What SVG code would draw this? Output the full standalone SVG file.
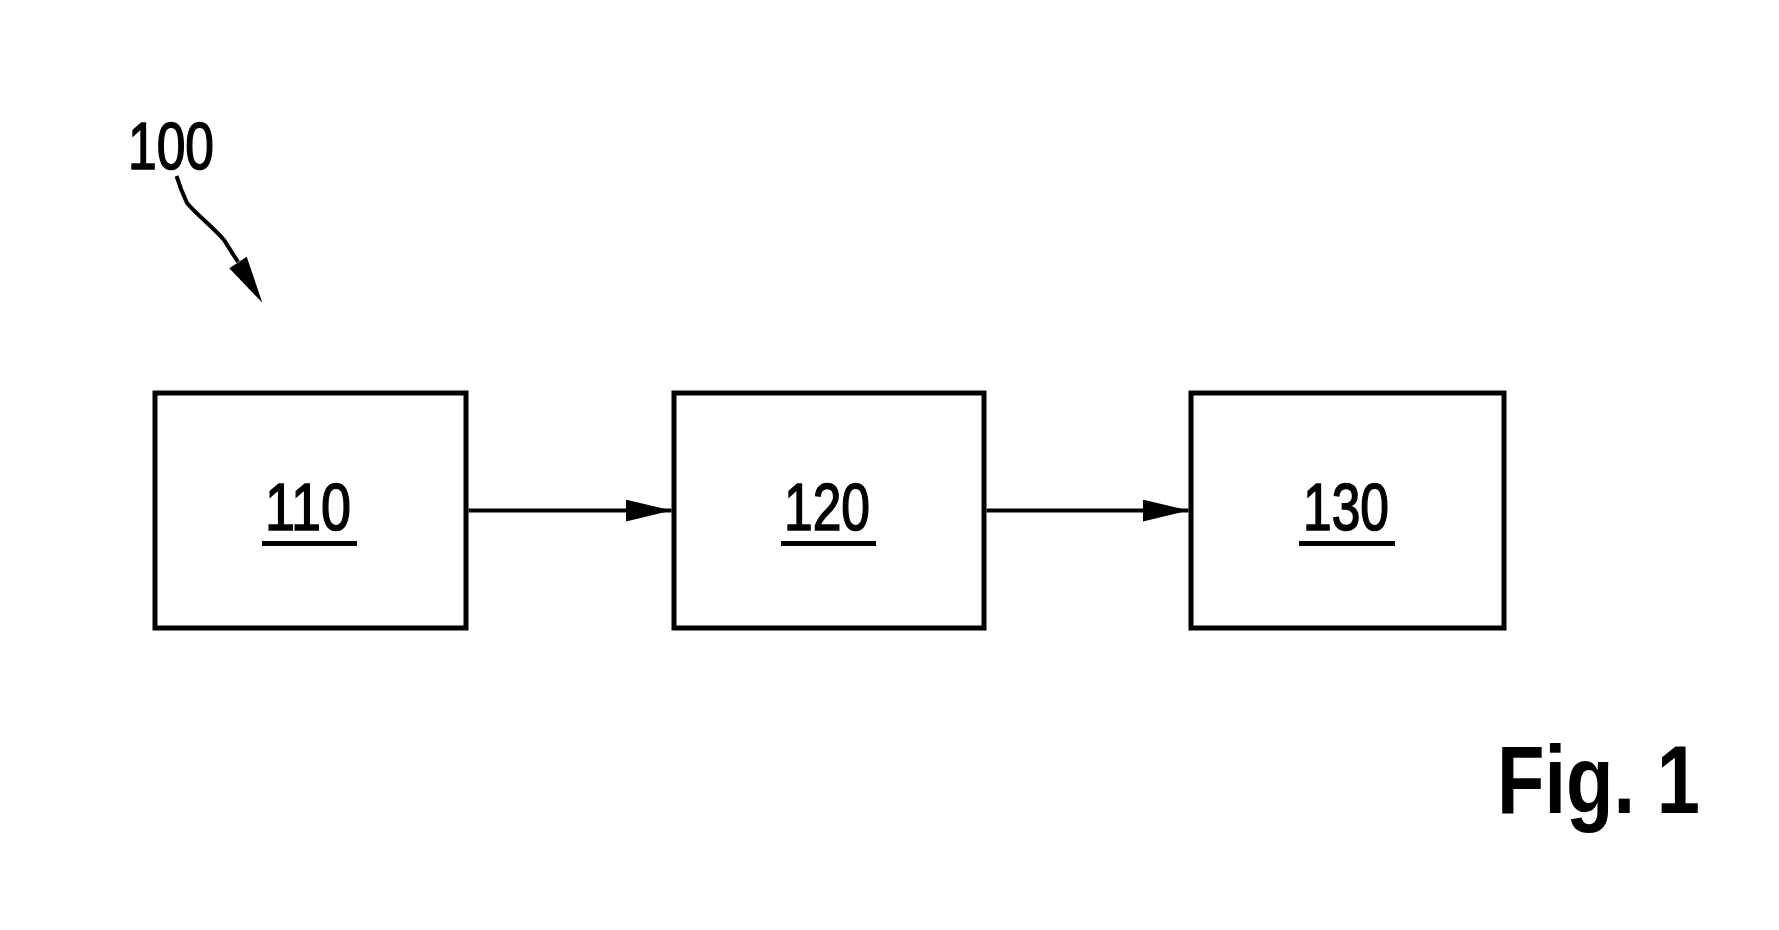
<svg xmlns="http://www.w3.org/2000/svg" width="1779" height="930" viewBox="0 0 1779 930">
<defs>
<style>
.box{fill:#fff;stroke:#000;stroke-width:5}
.lbl{font-family:"Liberation Sans",Arial,sans-serif;font-size:66px;fill:#000;stroke:#000;stroke-width:1.6;text-anchor:middle}
.ul{fill:#000}
.conn{stroke:#000;stroke-width:4;fill:none}
.fig{font-family:"Liberation Sans",Arial,sans-serif;font-size:96px;font-weight:bold;fill:#000}
</style>
<marker id="ah" viewBox="0 0 46 22" refX="46" refY="11" markerWidth="46" markerHeight="22" markerUnits="userSpaceOnUse" orient="auto">
<path d="M0,0 L46,11 L0,22 z" fill="#000"/>
</marker>
</defs>
<rect width="1779" height="930" fill="#fff"/>
<g id="ref100">
<text class="lbl" x="171" y="169" textLength="86" lengthAdjust="spacingAndGlyphs">100</text>
<path class="conn" d="M176.5,176 L181,189 L187,203 C196,214 214,228 224,240 L238,262"/>
<polygon points="262.3,302.7 229.3,268.3 246.7,256.7" fill="#000"/>
</g>
<g id="node110">
<rect class="box" x="155" y="393" width="311" height="235"/>
<text class="lbl" x="308" y="530" textLength="86" lengthAdjust="spacingAndGlyphs">110</text>
<rect class="ul" x="262" y="541" width="95" height="5"/>
</g>
<g id="node120">
<rect class="box" x="674" y="393" width="310" height="235"/>
<text class="lbl" x="827" y="530" textLength="86" lengthAdjust="spacingAndGlyphs">120</text>
<rect class="ul" x="781" y="541" width="95" height="5"/>
</g>
<g id="node130">
<rect class="box" x="1191" y="393" width="313" height="235"/>
<text class="lbl" x="1346" y="530" textLength="86" lengthAdjust="spacingAndGlyphs">130</text>
<rect class="ul" x="1299" y="541" width="96" height="5"/>
</g>
<g id="connectors">
<line class="conn" x1="468.5" y1="510.5" x2="671.5" y2="510.5" marker-end="url(#ah)"/>
<line class="conn" x1="986.5" y1="510.5" x2="1188.5" y2="510.5" marker-end="url(#ah)"/>
</g>
<text class="fig" x="1497" y="813" textLength="203" lengthAdjust="spacingAndGlyphs">Fig. 1</text>
</svg>
